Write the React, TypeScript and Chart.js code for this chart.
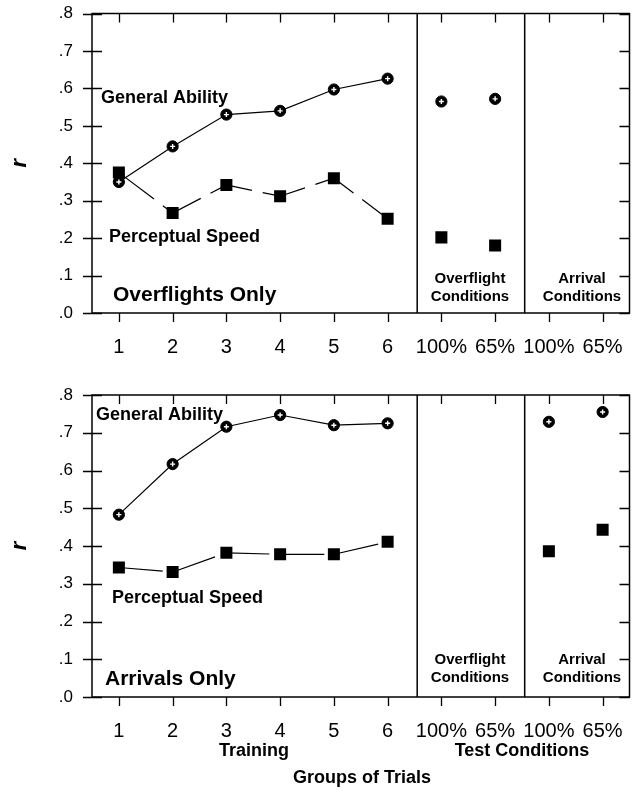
import React, { useEffect, useRef } from 'react';
import { Chart, registerables } from 'chart.js';

Chart.register(...registerables);

// ---------- data ----------
const categories = ['1', '2', '3', '4', '5', '6', '100%', '65%', '100%', '65%'];
const yTickValues = [0, 0.1, 0.2, 0.3, 0.4, 0.5, 0.6, 0.7, 0.8];
const yTickLabels = ['.0', '.1', '.2', '.3', '.4', '.5', '.6', '.7', '.8'];

const overflightGeneral = [0.35, 0.445, 0.53, 0.54, 0.597, 0.626, 0.565, 0.572, null, null];
const overflightPerceptual = [0.375, 0.267, 0.342, 0.312, 0.36, 0.252, 0.202, 0.18, null, null];
const arrivalGeneral = [0.483, 0.617, 0.716, 0.747, 0.72, 0.725, null, null, 0.729, 0.755];
const arrivalPerceptual = [0.343, 0.331, 0.382, 0.378, 0.378, 0.411, null, null, 0.386, 0.443];

const lastTrainingIndex = 5;
const separatorPositions = [5.55, 7.55];

const FONT = '"Liberation Sans", Arial, Helvetica, sans-serif';

type Note = { lines: string[]; x: number; y: number; size: number; align: CanvasTextAlign; lh?: number };

const W = 638;

function frameAndNotes(notes: Note[]) {
  return {
    id: 'frameAndNotes',
    beforeDatasetsDraw(chart: any) {
      const { ctx, chartArea: a, scales } = chart;
      const x = scales.x;
      const y = scales.y;
      ctx.save();
      ctx.strokeStyle = '#000';
      ctx.lineWidth = 1.5;
      ctx.strokeRect(a.left, a.top, a.right - a.left, a.bottom - a.top);
      ctx.lineWidth = 1.3;
      ctx.beginPath();
      yTickValues.forEach((v) => {
        const py = Math.round(y.getPixelForValue(v)) + 0.5;
        ctx.moveTo(a.left - 9, py);
        ctx.lineTo(a.left + 10, py);
        ctx.moveTo(a.right - 10, py);
        ctx.lineTo(a.right, py);
      });
      categories.forEach((_, i) => {
        const px = Math.round(x.getPixelForValue(i)) + 0.5;
        ctx.moveTo(px, a.top);
        ctx.lineTo(px, a.top + 9);
        ctx.moveTo(px, a.bottom);
        ctx.lineTo(px, a.bottom + 9);
      });
      ctx.stroke();
      ctx.lineWidth = 1.5;
      ctx.beginPath();
      separatorPositions.forEach((s) => {
        const px = x.getPixelForValue(s);
        ctx.moveTo(px, a.top);
        ctx.lineTo(px, a.bottom);
      });
      ctx.stroke();

      // y-axis title
      ctx.fillStyle = '#000';
      ctx.save();
      ctx.translate(20, (a.top + a.bottom) / 2);
      ctx.rotate(-Math.PI / 2);
      ctx.font = `italic bold 22px ${FONT}`;
      ctx.textAlign = 'center';
      ctx.textBaseline = 'middle';
      ctx.fillText('r', 0, 0);
      ctx.restore();

      notes.forEach((n) => {
        ctx.font = `bold ${n.size}px ${FONT}`;
        ctx.textAlign = n.align;
        ctx.textBaseline = 'middle';
        const lh = n.lh ?? n.size * 1.15;
        n.lines.forEach((t, k) => ctx.fillText(t, n.x, n.y + k * lh));
      });
      ctx.restore();
    },
  };
}

function makeConfig(
  general: (number | null)[],
  perceptual: (number | null)[],
  notes: Note[],
  padTop: number,
  xHeight: number
): any {
  const hideTest = (color: string) => (c: any) => (c.p1DataIndex > lastTrainingIndex ? 'rgba(0,0,0,0)' : color);
  return {
    type: 'line',
    data: {
      labels: categories,
      datasets: [
        {
          label: 'General Ability cross',
          data: general,
          showLine: false,
          pointStyle: 'cross',
          pointRadius: 2.5,
          pointBorderColor: '#fff',
          pointBorderWidth: 1.4,
          order: 0,
        },
        {
          label: 'General Ability',
          data: general,
          borderColor: '#000',
          borderWidth: 1.2,
          pointStyle: 'circle',
          pointRadius: 5.6,
          pointBackgroundColor: '#000',
          pointBorderColor: '#000',
          pointBorderWidth: 1,
          segment: { borderColor: hideTest('#000') },
          order: 1,
        },
        {
          label: 'Perceptual Speed',
          data: perceptual,
          borderColor: '#000',
          borderWidth: 1.2,
          borderDash: [44, 11],
          pointStyle: 'rect',
          pointRadius: 8.5,
          pointBackgroundColor: '#000',
          pointBorderColor: '#000',
          pointBorderWidth: 0,
          segment: { borderColor: hideTest('#000') },
          order: 2,
        },
      ],
    },
    options: {
      animation: false,
      responsive: false,
      events: [],
      layout: { padding: { top: padTop, right: 5, left: 0, bottom: 0 } },
      plugins: { legend: { display: false }, tooltip: { enabled: false } },
      scales: {
        x: {
          type: 'category',
          offset: true,
          grid: { display: false, drawTicks: false },
          border: { display: false },
          ticks: {
            color: '#000',
            font: { family: FONT, size: 20 },
            padding: 22,
            maxRotation: 0,
            autoSkip: false,
          },
          afterFit: (s: any) => {
            s.height = xHeight;
            s.paddingLeft = 0;
            s.paddingRight = 0;
            s.paddingTop = 0;
            s.paddingBottom = 0;
          },
        },
        y: {
          min: 0,
          max: 0.8,
          grid: { display: false, drawTicks: false },
          border: { display: false },
          afterBuildTicks: (s: any) => {
            s.ticks = yTickValues.map((v) => ({ value: v }));
          },
          ticks: {
            color: '#000',
            font: { family: FONT, size: 17 },
            padding: 19,
            callback: (_v: any, i: number) => yTickLabels[i],
          },
          afterFit: (s: any) => {
            s.width = 92;
            s.paddingLeft = 0;
            s.paddingRight = 0;
            s.paddingTop = 0;
            s.paddingBottom = 0;
          },
        },
      },
    },
    plugins: [frameAndNotes(notes)],
  };
}

const topNotes: Note[] = [
  { lines: ['General Ability'], x: 101, y: 98, size: 18, align: 'left' },
  { lines: ['Perceptual Speed'], x: 109, y: 237, size: 18, align: 'left' },
  { lines: ['Overflights Only'], x: 113, y: 295, size: 21, align: 'left' },
  { lines: ['Overflight', 'Conditions'], x: 470, y: 279, size: 15, align: 'center', lh: 18 },
  { lines: ['Arrival', 'Conditions'], x: 582, y: 279, size: 15, align: 'center', lh: 18 },
];

const BOT_TOP = 380;
const bottomNotes: Note[] = [
  { lines: ['General Ability'], x: 96, y: 415 - BOT_TOP, size: 18, align: 'left' },
  { lines: ['Perceptual Speed'], x: 112, y: 598 - BOT_TOP, size: 18, align: 'left' },
  { lines: ['Arrivals Only'], x: 105, y: 679 - BOT_TOP, size: 21, align: 'left' },
  { lines: ['Overflight', 'Conditions'], x: 470, y: 660 - BOT_TOP, size: 15, align: 'center', lh: 18 },
  { lines: ['Arrival', 'Conditions'], x: 582, y: 660 - BOT_TOP, size: 15, align: 'center', lh: 18 },
  { lines: ['Training'], x: 254, y: 751 - BOT_TOP, size: 18, align: 'center' },
  { lines: ['Test Conditions'], x: 522, y: 751 - BOT_TOP, size: 18, align: 'center' },
  { lines: ['Groups of Trials'], x: 362, y: 778 - BOT_TOP, size: 18, align: 'center' },
];

export default function App() {
  const topRef = useRef<HTMLCanvasElement>(null);
  const botRef = useRef<HTMLCanvasElement>(null);

  useEffect(() => {
    const c1 = new Chart(topRef.current as HTMLCanvasElement, makeConfig(overflightGeneral, overflightPerceptual, topNotes, 13.5, 67));
    const c2 = new Chart(botRef.current as HTMLCanvasElement, makeConfig(arrivalGeneral, arrivalPerceptual, bottomNotes, 15, 95));
    return () => {
      c1.destroy();
      c2.destroy();
    };
  }, []);

  return (
    <div style={{ position: 'absolute', left: 0, top: 0, width: W, height: 792, background: '#fff' }}>
      <canvas ref={topRef} width={W} height={380} style={{ position: 'absolute', left: 0, top: 0, width: W, height: 380 }} />
      <canvas ref={botRef} width={W} height={412} style={{ position: 'absolute', left: 0, top: BOT_TOP, width: W, height: 412 }} />
    </div>
  );
}
